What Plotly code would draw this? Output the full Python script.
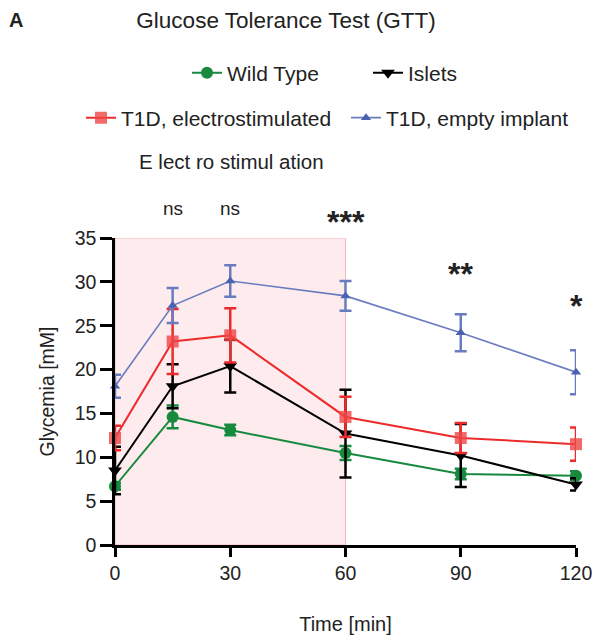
import plotly.graph_objects as go

time = [0, 15, 30, 60, 90, 120]

wt_mean = [6.7, 14.6, 13.1, 10.5, 8.1, 7.9]
wt_err = [0.4, 1.3, 0.6, 0.8, 0.6, 0.5]

islets_mean = [8.5, 18.1, 20.4, 12.7, 10.2, 6.9]
islets_err = [2.7, 2.5, 3.0, 5.0, 3.6, 0.7]

electro_mean = [12.2, 23.2, 23.9, 14.6, 12.2, 11.5]
electro_err = [1.4, 3.7, 3.1, 2.3, 1.7, 1.9]

empty_mean = [18.1, 27.3, 30.1, 28.4, 24.2, 19.7]
empty_err = [1.3, 2.0, 1.8, 1.7, 2.1, 2.5]

sig_x = [15, 30, 60, 90, 120]
sig_labels = ["ns", "ns", "***", "**", "*"]

FONT = "Arial, Liberation Sans, sans-serif"
TXT = "#222222"

W, H = 594, 636
L, R, T, B = 115, 576, 238, 545
PW, PH = R - L, B - T

def py(pix):
    return (B - pix) / PH

def px(pix):
    return (pix - L) / PW

fig = go.Figure()

def add(name, y, err, color, mcolor, symbol, msize, lw, legend):
    fig.add_trace(go.Scatter(
        x=time, y=y, name=name, mode="lines+markers",
        line=dict(color=color, width=lw),
        marker=dict(symbol=symbol, size=msize, color=mcolor),
        error_y=dict(type="data", array=err, visible=True, color=color, thickness=2.5, width=6),
        legend=legend, cliponaxis=False, showlegend=True,
    ))

add("Wild Type", wt_mean, wt_err, "#178a3e", "#178a3e", "circle", 12, 2, "legend")
add("Islets", islets_mean, islets_err, "#000000", "#000000", "triangle-down", 12, 2, "legend2")
add("T1D, electrostimulated", electro_mean, electro_err, "#ee2a2a", "rgba(238,70,70,0.8)", "square", 12, 2, "legend3")
add("T1D, empty implant", empty_mean, empty_err, "#6a7cc0", "#4a62b0", "triangle-up", 9, 1.6, "legend4")

fig.add_shape(type="rect", x0=0, x1=60, y0=0, y1=35, xref="x", yref="y",
              fillcolor="rgba(250,205,212,0.4)", line=dict(color="rgba(248,175,180,0.9)", width=1),
              layer="below")

ypix = {"ns": 208, "***": 222, "**": 274, "*": 306}
sizes = {"ns": 19, "***": 32, "**": 32, "*": 32}
for x, lab in zip(sig_x, sig_labels):
    txt = lab if lab == "ns" else "<b>" + lab + "</b>"
    fig.add_annotation(x=x, y=py(ypix[lab]), text=txt, showarrow=False, xref="x", yref="paper",
                       yanchor="middle", font=dict(size=sizes[lab], color=TXT, family=FONT))

fig.add_annotation(x=px(231), y=py(162), text="E lect ro stimul ation", showarrow=False,
                   xref="paper", yref="paper", xanchor="center", yanchor="middle",
                   font=dict(size=20.5, color=TXT, family=FONT))

fig.add_annotation(x=px(7), y=py(20), xref="paper", yref="paper", text="<b>A</b>",
                   showarrow=False, xanchor="left", yanchor="middle",
                   font=dict(size=20, color=TXT, family=FONT))

def leg(text_start, ycen):
    return dict(orientation="h", x=px(text_start - 40), y=py(ycen), xanchor="left", yanchor="middle",
                font=dict(size=21, family=FONT, color=TXT), bgcolor="rgba(0,0,0,0)", itemwidth=30)

fig.update_layout(
    width=W, height=H, showlegend=True,
    margin=dict(l=L, r=W - R, t=T, b=H - B, autoexpand=False),
    paper_bgcolor="white", plot_bgcolor="white",
    font=dict(family=FONT, color=TXT),
    title=dict(text="Glucose Tolerance Test (GTT)", x=286 / W, xanchor="center",
               y=1 - 20 / H, yanchor="middle", xref="container", yref="container",
               font=dict(size=22.5, color=TXT, family=FONT)),
    legend=leg(227, 73),
    legend2=leg(408, 73),
    legend3=leg(121, 118),
    legend4=leg(386, 118),
    xaxis=dict(range=[0, 120], tickvals=[0, 30, 60, 90, 120], showgrid=False, zeroline=False,
               showline=True, linecolor="black", linewidth=2.5, ticks="outside", ticklen=9,
               tickwidth=2.5, tickcolor="black", tickfont=dict(size=19.5, color=TXT),
               automargin=False,
               title=dict(text="Time [min]", font=dict(size=20), standoff=34)),
    yaxis=dict(range=[0, 35], tickvals=list(range(0, 36, 5)), showgrid=False, zeroline=False,
               showline=True, linecolor="black", linewidth=2.5, ticks="outside", ticklen=12,
               tickwidth=2.5, tickcolor="black", tickfont=dict(size=19.5, color=TXT),
               automargin=False,
               title=dict(text="Glycemia [mM]", font=dict(size=19.5), standoff=15)),
)

fig.write_html("out.html", config={"displayModeBar": False},
               post_script="document.body.style.margin='0';document.body.style.overflow='hidden';")
